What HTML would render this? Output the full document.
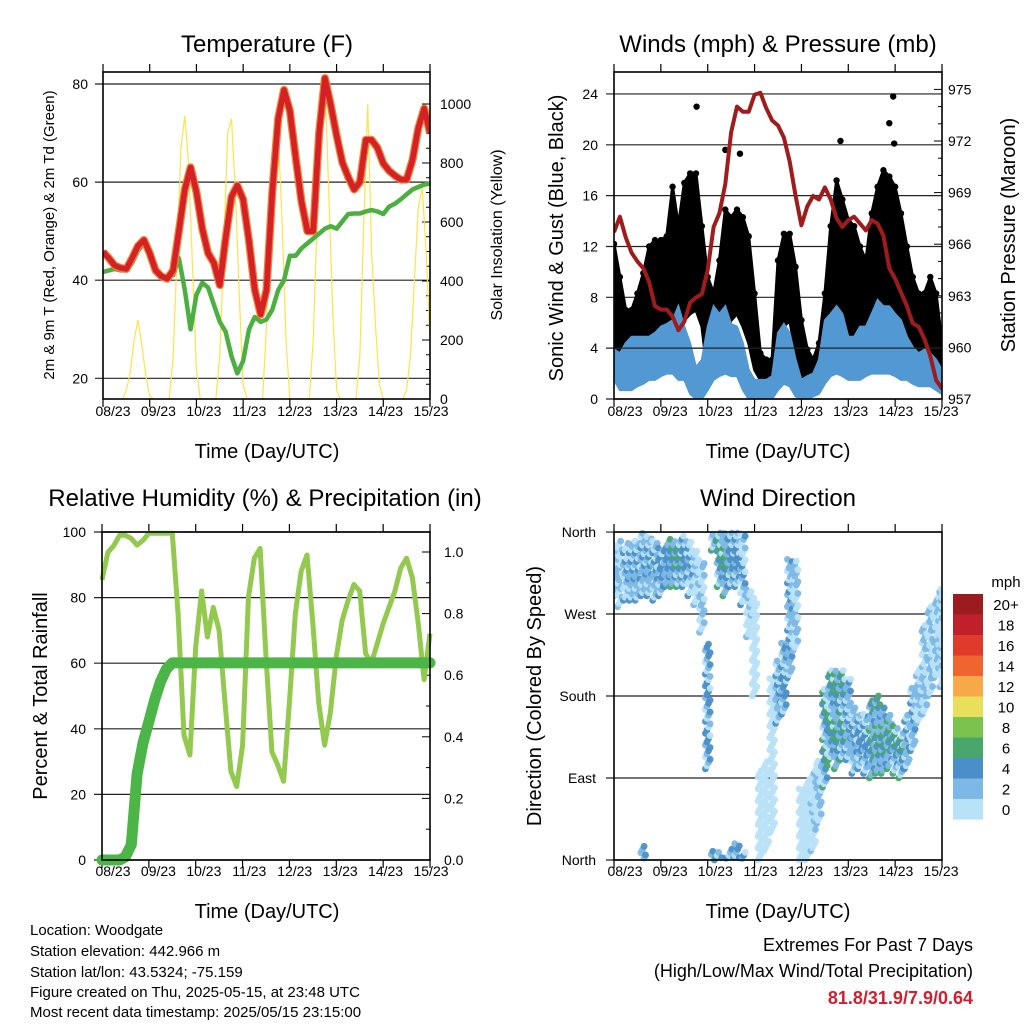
<!DOCTYPE html>
<html><head><meta charset="utf-8"><style>
html,body{margin:0;padding:0;background:#fff;}
svg{display:block;font-family:"Liberation Sans",Arial,sans-serif;}
</style></head><body>
<svg id="fig" width="1024" height="1024" viewBox="0 0 1024 1024" xmlns="http://www.w3.org/2000/svg">
<defs>
<clipPath id="c1"><rect x="103" y="72" width="327" height="327"/></clipPath>
<clipPath id="c2"><rect x="614" y="72" width="328" height="327"/></clipPath>
<clipPath id="c3"><rect x="96" y="526" width="340" height="340"/></clipPath>
<clipPath id="c4"><rect x="614" y="528" width="328" height="336"/></clipPath>
</defs>
<g id="root"></g>
<g font-size="15" fill="#000">
<text x="30" y="935">Location: Woodgate</text>
<text x="30" y="956">Station elevation: 442.966 m</text>
<text x="30" y="977">Station lat/lon: 43.5324; -75.159</text>
<text x="30" y="997">Figure created on Thu, 2025-05-15, at 23:48 UTC</text>
<text x="30" y="1017">Most recent data timestamp: 2025/05/15 23:15:00</text>
</g>
<g text-anchor="end">
<text x="973" y="951" font-size="18">Extremes For Past 7 Days</text>
<text x="973" y="977" font-size="18">(High/Low/Max Wind/Total Precipitation)</text>
<text x="973" y="1004" font-size="18" font-weight="bold" fill="#cf2030">81.8/31.9/7.9/0.64</text>
</g>
</svg>
<script>
// ---------- data (3-hourly, t = 3*i hours from 08/23) ----------
const dayLabels = ["08/23","09/23","10/23","11/23","12/23","13/23","14/23","15/23"];
const tempF = [45.8,44.5,43,42.5,42.3,44.5,47,48.2,45.5,42,40.8,40.3,42,50,58.5,63,58,50.5,45.5,43.5,39,48.5,57,59.3,56.5,48,38,33,38,58,73,78.8,74.5,65,56,50,50,70,81.2,75.8,69.5,64,61,58.5,60,68.6,68.6,67,63.8,62.3,61.3,60.5,60.5,64.5,71,75,70];
const dewF = [41.7,42,42.3,42,42,43.5,46,47.5,45,42,41,40.5,41,44.5,38,30,37,39.5,38.5,35,31.5,29.5,24.5,21,23.5,30,32.5,31.5,32,34,38,40,45,45,46.5,47.5,48.5,49.5,50.5,51,50.5,52,53.5,53.6,53.6,54,54.3,54,53.5,55,55.6,56.5,57.5,58.5,59,59.5,59.7];
// solar, 2-hourly
const solar = [0,0,0,0,0,0,30,90,200,268,180,80,10,0,0,0,0,0,140,480,850,960,800,450,100,0,0,0,0,0,150,500,900,950,700,350,50,0,0,0,0,0,250,650,930,900,600,200,0,0,0,0,0,0,200,600,950,1080,700,300,30,0,0,0,0,0,150,600,1000,500,250,50,0,0,0,0,0,0,30,150,400,650,718,500,200];
const pressure = [966.7,967.6,966.4,965.5,965,964.6,963.8,962.4,962.2,962.2,961.8,961,961.5,962.6,962.9,963.1,964.5,967,967.8,969.5,972.5,974,973.7,973.7,974.7,974.8,973.9,973.2,972.9,972.2,970.8,968.8,967.1,968.2,968.8,968.6,969.3,968.6,967.5,967,967.4,967.6,967.2,966.8,967.4,967.2,966.5,964.6,964,963.2,962.4,961.4,961.2,960.5,959.5,958.1,957.6];
const gustHi = [12.2,9.6,7,7,8.3,9.9,12,12.5,12.5,12.8,16.7,13.6,17,17.75,17.75,13.6,9.6,8.3,10.9,14.9,14.3,14.9,14.3,12.8,8.3,3.6,3.1,3.1,10.9,13,13,10.4,6.2,3.9,3.1,4.4,8.3,13.6,17.2,15.7,14.1,13.6,12,10.9,14.6,16.7,18,17.5,16.7,14.6,12,9.6,8.3,8.3,9.6,8.3,4.4];
const gustLo = [3.1,2.3,1.8,2.3,2.5,3.1,3.9,3.6,4.1,5.2,5.7,5.7,6.2,6.7,7,5.7,1.8,3.1,3.9,5.2,6.2,6.7,5.7,4.4,2.3,1.5,1.5,1.5,4.4,5.7,6.2,3.6,1.5,1.2,1.5,1.5,3.1,5.2,6.2,5.7,4.9,4.9,4.1,4.1,5.2,6.2,6.7,6.7,5.7,4.6,4.1,3.6,3.6,3.1,2.5,1.8,0.7];
const gustOutlierT = [42.3,143,116,57,64.5,141,143.5];
const gustOutlierV = [23,23.8,20.3,19.6,19.3,21.7,20.1];
const windHi = [3.9,3.6,4.4,4.9,4.9,4.9,4.9,5.2,5.7,5.9,6.2,7.3,5.7,4.4,2.5,3.1,5.7,7.3,6.7,7.3,5.9,5.7,4.4,2.3,1.5,1.5,1.5,1.8,5.2,5.9,5.2,3.1,1.5,1.8,2.0,3.1,6.2,6.7,7.3,6.7,4.9,4.9,5.7,5.7,6.7,7.8,7.3,7.3,6.7,6.2,4.9,4.1,3.6,3.9,3.6,3.1,2.3];
const windLo = [1.5,0.7,0.7,0.7,1.0,1.2,1.5,1.5,1.8,2.0,2.0,1.5,1.5,0.4,0,0,0.7,1.5,1.8,2.0,1.8,1.8,0.7,0,0,0,0,0,0.7,1.2,1.0,0.2,0,0,0.2,0.4,1.2,1.8,2.0,1.8,1.5,1.5,1.5,1.8,2.0,2.0,2.0,2.0,1.8,1.5,1.5,1.2,1.0,1.0,1.0,0.7,0.4];
const rhPct = [85.4,93.8,95.8,99,99,98,96,97.5,99.6,99.6,99.6,99.6,99.6,75,38,32,65,82,68,77,70,48,27,22.4,35,80,92,95,62,33,29,24,48,75,88,93,72,48,35,45,62,73,79,84,82,63,60,66,72,77,82,89,92,86,72,55,69];
const rainIn = [0,0,0,0,0.01,0.05,0.28,0.38,0.45,0.52,0.58,0.62,0.64,0.64,0.64,0.64,0.64,0.64,0.64,0.64,0.64,0.64,0.64,0.64,0.64,0.64,0.64,0.64,0.64,0.64,0.64,0.64,0.64,0.64,0.64,0.64,0.64,0.64,0.64,0.64,0.64,0.64,0.64,0.64,0.64,0.64,0.64,0.64,0.64,0.64,0.64,0.64,0.64,0.64,0.64,0.64,0.64];
const dirLo = [290,278,285,285,285,290,290,285,290,300,300,300,300,290,280,250,100,340,300,290,300,300,280,245,180,0,10,30,150,160,200,230,0,0,10,40,80,110,100,110,110,95,100,95,90,95,95,100,95,90,100,120,150,160,180,200,190];
const dirHi = [348,351,348,348,352,375,356,350,345,350,352,350,356,350,340,330,240,370,370,365,375,380,370,300,290,100,110,200,220,240,330,330,80,90,100,110,190,210,210,210,200,170,160,160,175,180,170,160,150,140,160,190,210,260,280,290,300];
const speedBins = ["0","2","4","6","8","10","12","14","16","18","20+"];
const speedColors = ["#b8e2f8","#7db8e6","#4a8fc8","#48a86c","#7cc24e","#e8e05a","#f7a848","#f06430","#e03a2c","#c0202a","#9b1b1e"];

// ---------- helpers ----------
const NS="http://www.w3.org/2000/svg";
const root=document.getElementById('root');
function mk(tag,attrs,parent){const e=document.createElementNS(NS,tag);for(const k in attrs)e.setAttribute(k,attrs[k]);(parent||root).appendChild(e);return e;}
function txt(x,y,s,size,anchor,parent,rot){const e=mk('text',{x:x,y:y,'font-size':size,'text-anchor':anchor||'middle'},parent);if(rot)e.setAttribute('transform','rotate(-90 '+x+' '+y+')');e.textContent=s;return e;}
const P1={x0:103,x1:430,y0:72,y1:399}, P2={x0:614,x1:942,y0:72,y1:399}, P3={x0:102,x1:430,y0:532,y1:860}, P4={x0:614,x1:942,y0:532,y1:860};
function xT(P,t){return P.x0+t/168*(P.x1-P.x0);}
const yT=v=>84+(80-v)*4.905, ySol=s=>399-s*0.295, yW=v=>399-v*12.71, yP=p=>399-(p-957)*17.2;
const yRH=r=>860-r*3.28, yRain=r=>860-r*308, yDir=d=>860-d*0.911;
function linePath(P,arr,dt,yf){return arr.map((v,i)=>(i?'L':'M')+xT(P,i*dt).toFixed(1)+' '+yf(v).toFixed(1)).join(' ');}

function frame(P,name,labX0,labStep,labY){
  const g=mk('g',{});
  
  
  for(let k=0;k<8;k++){const x=P.x0+k*(P.x1-P.x0)/7;
    mk('line',{x1:x,y1:P.y0-8,x2:x,y2:P.y0,stroke:'#000','stroke-width':1.2},g);
    mk('line',{x1:x,y1:P.y1,x2:x,y2:P.y1+8,stroke:'#000','stroke-width':1.2},g);
    const t=txt(labX0+k*labStep,labY,dayLabels[k],14,'middle',g);
    
    }
  return g;
}
function box(P,name){const r=mk('rect',{x:P.x0,y:P.y0,width:P.x1-P.x0,height:P.y1-P.y0,fill:'none',stroke:'#000','stroke-width':1.6});
  
  }
function hgrid(P,y,g){mk('line',{x1:P.x0-8,y1:y,x2:P.x1,y2:y,stroke:'#222','stroke-width':1.2},g);}

// ---------- Panel 1: temperature ----------
{
const g=frame(P1,'temperature',113,45.43,416);
[80,60,40,20].forEach(v=>{hgrid(P1,yT(v),g);const t=txt(88,yT(v)+5,String(v),14,'end',g);
  
  });
for(let s=0;s<=1000;s+=50){const y=ySol(s);const L=s%200===0?8:4;mk('line',{x1:P1.x1-L,y1:y,x2:P1.x1,y2:y,stroke:'#000','stroke-width':1},g);
  if(s%200===0){const t=txt(440,y+5,String(s),14,'start',g);
  
  }}
const cg=mk('g',{'clip-path':'url(#c1)'});
const sol=mk('path',{d:linePath(P1,solar,2,ySol),fill:'none',stroke:'#fde34a','stroke-width':1.2},cg);


const dw=mk('path',{d:linePath(P1,dewF,3,yT),fill:'none',stroke:'#4bb040','stroke-width':4.5,'stroke-linejoin':'round'},cg);


const t9=mk('path',{d:linePath(P1,tempF,3,yT),fill:'none',stroke:'#f28030','stroke-width':8,'stroke-linejoin':'round'},cg);


const t2=mk('path',{d:linePath(P1,tempF,3,yT),fill:'none',stroke:'#d42027','stroke-width':5.5,'stroke-linejoin':'round'},cg);


box(P1,'temperature');
const a=txt(267,52,'Temperature (F)',24,'middle');
const b=txt(267,458,'Time (Day/UTC)',20,'middle');
const c=txt(54,235,'2m & 9m T (Red, Orange) & 2m Td (Green)',15,'middle',null,true);
const d=txt(502,235,'Solar Insolation (Yellow)',16,'middle',null,true);
}

// ---------- Panel 2: winds & pressure ----------
{
const g=frame(P2,'winds',625,45.14,416);
[0,4,8,12,16,20,24].forEach(v=>{hgrid(P2,yW(v),g);const t=txt(598,yW(v)+5,String(v),14,'end',g);
  
  });
for(let p=957;p<=975;p+=1){const y=yP(p);const L=(p-957)%3===0?8:4;mk('line',{x1:P2.x1-L,y1:y,x2:P2.x1,y2:y,stroke:'#000','stroke-width':1},g);
  if((p-957)%3===0){const t=txt(948,y+5,String(p),14,'start',g);
  
  }}
const cg=mk('g',{'clip-path':'url(#c2)'});
let pts=gustHi.map((v,i)=>xT(P2,3*i).toFixed(1)+','+yW(v).toFixed(1));
for(let i=gustLo.length-1;i>=0;i--)pts.push(xT(P2,3*i).toFixed(1)+','+yW(gustLo[i]).toFixed(1));
const gb=mk('polygon',{points:pts.join(' '),fill:'#000','stroke':'#000','stroke-width':3,'stroke-linejoin':'round'},cg);


gustHi.forEach((v,i)=>{const c=mk('circle',{cx:xT(P2,3*i),cy:yW(v),r:3.2,fill:'#000'},cg);
  
  });
gustOutlierT.forEach((t,i)=>{const c=mk('circle',{cx:xT(P2,t),cy:yW(gustOutlierV[i]),r:3.2,fill:'#000'},cg);
  
  });
let wp=windHi.map((v,i)=>xT(P2,3*i).toFixed(1)+','+yW(v).toFixed(1));
for(let i=windLo.length-1;i>=0;i--)wp.push(xT(P2,3*i).toFixed(1)+','+yW(windLo[i]).toFixed(1));
const wb=mk('polygon',{points:wp.join(' '),fill:'#5298d2',stroke:'#5298d2','stroke-width':2},cg);


hgrid(P2,yW(4),cg);
const pl=mk('path',{d:linePath(P2,pressure,3,yP),fill:'none',stroke:'#a01c1c','stroke-width':4,'stroke-linejoin':'round'},cg);


box(P2,'winds');
const a=txt(778,52,'Winds (mph) & Pressure (mb)',24,'middle');
const b=txt(778,458,'Time (Day/UTC)',20,'middle');
const c=txt(563,238,'Sonic Wind & Gust (Blue, Black)',20,'middle',null,true);
const d=txt(1015,235,'Station Pressure (Maroon)',20,'middle',null,true);
}

// ---------- Panel 3: RH & precip ----------
{
const g=frame(P3,'humidity',113,45.43,876);
[0,20,40,60,80,100].forEach(v=>{hgrid(P3,yRH(v),g);const t=txt(86,yRH(v)+5,String(v),14,'end',g);
  
  });
for(let r=0;r<=10;r++){const y=yRain(r/10);const L=r%2===0?8:4;mk('line',{x1:P3.x1-L,y1:y,x2:P3.x1,y2:y,stroke:'#000','stroke-width':1},g);
  if(r%2===0){const t=txt(444,y+5,(r/10).toFixed(1),14,'start',g);
  
  }}
const cg=mk('g',{'clip-path':'url(#c3)'});
const rh=mk('path',{d:linePath(P3,rhPct,3,yRH),fill:'none',stroke:'#93c94e','stroke-width':5,'stroke-linejoin':'round'},cg);


const rn=mk('path',{d:linePath(P3,rainIn,3,yRain),fill:'none',stroke:'#4cb548','stroke-width':11,'stroke-linejoin':'round','stroke-linecap':'round'},cg);


box(P3,'humidity');
const a=txt(265,506,'Relative Humidity (%) & Precipitation (in)',24,'middle');
const b=txt(267,918,'Time (Day/UTC)',20,'middle');
const c=txt(47,696,'Percent & Total Rainfall',20,'middle',null,true);
}

// ---------- Panel 4: wind direction ----------
{
const g=frame(P4,'direction',625,45.14,876);
const dl=['North','East','South','West','North'];
dl.forEach((s,k)=>{const y=yDir(k*90);hgrid(P4,y,g);const t=txt(596,y+5,s,14,'end',g);
  
  });
const cg=mk('g',{'clip-path':'url(#c4)'});
dirLo.forEach((lo,i)=>{
  const hi=dirHi[i];
  [-1.2,-0.4,0.4,1.2].forEach((sub,si)=>{
    const t=Math.max(0,Math.min(168,3*i+sub));
    let k=0;
    for(let d=lo+si*3.5;d<=hi;d+=13,k++){
      const dm=((d%360)+360)%360;
      const sp=windLo[i]+(windHi[i]-windLo[i])*((k+si+3)%4)/3;
      const ci=Math.min(10,Math.floor(sp/2));
      const c=mk('circle',{cx:xT(P4,t).toFixed(1),cy:yDir(dm).toFixed(1),r:3.4,fill:speedColors[ci],'fill-opacity':0.95},cg);
      
      
    }
  });
});
box(P4,'direction');
const lg=mk('g',{});


const mt=txt(1006,587,'mph',15,'middle',lg);
speedBins.forEach((s,k)=>{const y=594+(10-k)*20.5;
  const r=mk('rect',{x:953,y:y,width:30,height:20.5,fill:speedColors[k]},lg);
  
  
  const t=txt(1006,y+16,s,15,'middle',lg);
  
  });
const a=txt(778,506,'Wind Direction',24,'middle');
const b=txt(778,918,'Time (Day/UTC)',20,'middle');
const c=txt(541,696,'Direction (Colored By Speed)',20,'middle',null,true);
}
</script>
</body></html>
